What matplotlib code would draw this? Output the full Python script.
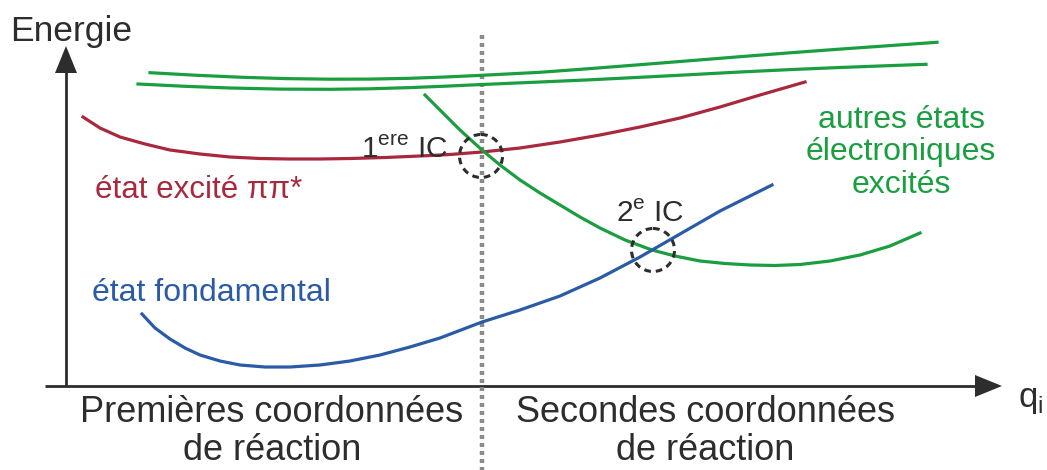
import matplotlib
matplotlib.use("Agg")
import matplotlib.pyplot as plt
from matplotlib.patches import Circle

plt.rcParams['font.family'] = ['Liberation Sans', 'DejaVu Sans']
plt.rcParams['mathtext.fontset'] = 'custom'
plt.rcParams['mathtext.rm'] = 'Liberation Sans'

RED = '#a9283e'
GREEN = '#1a9e40'
BLUE = '#2a5ba6'
DARK = '#2d2d2d'

# curves, in picture pixels (x, y from top)
upper1_x = [150, 195, 240, 285, 330, 370, 410, 445, 480, 540, 590, 640, 690, 740, 790, 840, 890, 937]
upper1_y = [72.7, 75.2, 77.2, 78.6, 79.2, 79.1, 78.3, 77.0, 75.4, 72.3, 68.6, 64.7, 60.7, 56.7, 52.8, 49.1, 45.6, 42.3]
upper2_x = [138, 185, 230, 280, 330, 370, 410, 445, 480, 540, 590, 640, 690, 740, 790, 840, 885, 926]
upper2_y = [84.0, 86.3, 88.0, 89.1, 89.3, 88.8, 87.6, 86.2, 84.6, 82.0, 79.8, 77.3, 74.7, 72.0, 69.6, 67.5, 65.8, 64.3]

excited_x = [83, 100, 120, 145, 170, 200, 230, 260, 290, 320, 350, 385, 420, 450, 482, 520, 560, 600, 640, 680, 720, 760, 805]
excited_y = [117, 128, 137, 144, 150, 154, 157, 158.5, 159, 159, 158.5, 157.5, 156, 154.5, 152, 148, 142, 135, 127, 118, 107, 95, 82]

other_x = [425, 440, 460, 482, 500, 520, 540, 560, 580, 600, 625, 652, 675, 700, 725, 750, 775, 800, 830, 860, 890, 920]
other_y = [95, 110, 130, 150, 165, 180, 193, 205, 217, 228, 240, 250, 256, 261, 263.5, 265, 265.5, 264.5, 261, 255, 246, 233]

ground_x = [142, 155, 170, 185, 200, 220, 240, 265, 290, 320, 350, 380, 410, 440, 482, 520, 560, 600, 640, 680, 720, 750, 772]
ground_y = [314, 328, 339, 348, 355, 361, 365, 367, 367, 365, 361, 355, 347, 338, 322, 310, 296, 278, 257, 234, 211, 196, 185]

ic_centers = [(481, 156), (653, 250)]

fig = plt.figure(figsize=(10.47, 4.70), dpi=100)
ax = fig.add_axes([0, 0, 1, 1])
ax.set_xlim(0, 1047)
ax.set_ylim(470, 0)
ax.axis('off')

# axes arrows
ax.plot([66, 66], [386, 70], color=DARK, lw=2, solid_capstyle='butt')
ax.fill([55, 77, 66], [73, 73, 46], color=DARK, lw=0)
ax.plot([45, 978], [386, 386], color=DARK, lw=2, solid_capstyle='butt')
ax.fill([975, 975, 1002], [375, 397, 386], color=DARK, lw=0)

# separator
ax.plot([482, 482], [35, 470], color='#8a8a8a', lw=3.2, linestyle=(0, (0.9, 0.9)))

lw = 2.3
ax.plot(upper1_x, upper1_y, color=GREEN, lw=lw)
ax.plot(upper2_x, upper2_y, color=GREEN, lw=lw)
ax.plot(excited_x, excited_y, color=RED, lw=lw)
ax.plot(other_x, other_y, color=GREEN, lw=lw)
ax.plot(ground_x, ground_y, color=BLUE, lw=lw)

for cx, cy in ic_centers:
    ax.add_patch(Circle((cx, cy), 21.5, fill=False, ec=DARK, lw=2.2,
                        linestyle=(0, (2.2, 1.6)), zorder=5))

ax.text(10, 31, 'Energie', fontsize=25.5, color=DARK, va='center', ha='left')
ax.text(1018, 400, r'q$_\mathrm{i}$', fontsize=25, color=DARK, va='center', ha='left')

ax.text(272, 413, 'Premières coordonnées', fontsize=26, color=DARK, ha='center', va='center')
ax.text(272, 450, 'de réaction', fontsize=26, color=DARK, ha='center', va='center')
ax.text(705, 413, 'Secondes coordonnées', fontsize=26, color=DARK, ha='center', va='center')
ax.text(705, 450, 'de réaction', fontsize=26, color=DARK, ha='center', va='center')

ax.text(448, 150, r'1$^{\mathrm{ere}}$ IC', fontsize=21.5, color=DARK, ha='right', va='center')
ax.text(650, 214, r'2$^{\mathrm{e}}$ IC', fontsize=21.5, color=DARK, ha='center', va='center')

ax.text(95, 190, 'état excité ππ*', fontsize=22.5, color=RED, ha='left', va='center')
ax.text(92, 293, 'état fondamental', fontsize=23, color=BLUE, ha='left', va='center')
ax.text(901, 120, 'autres états', fontsize=23, color=GREEN, ha='center', va='center')
ax.text(901, 152, 'électroniques', fontsize=23, color=GREEN, ha='center', va='center')
ax.text(901, 185, 'excités', fontsize=23, color=GREEN, ha='center', va='center')

fig.savefig('out.png', dpi=100)
